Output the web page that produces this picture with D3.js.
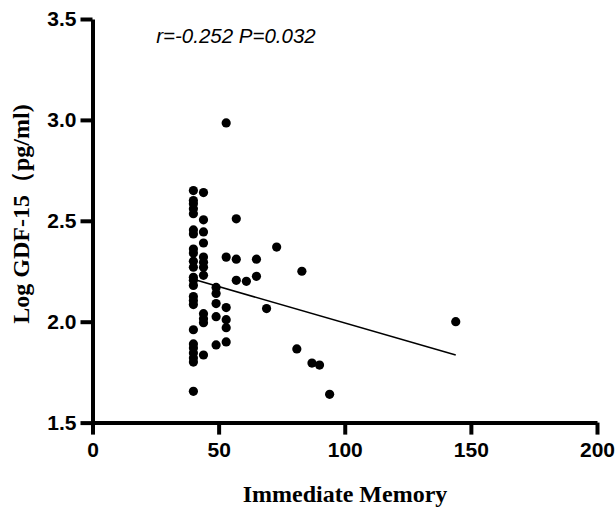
<!DOCTYPE html>
<html>
<head>
<meta charset="utf-8">
<script src="https://cdn.jsdelivr.net/npm/d3@7"></script>
<style>
    html, body { margin: 0; padding: 0; background: #fff; }
</style>
</head>
<body>
<svg id="chart" width="616" height="507"></svg>
<script>
// Immediate Memory score vs Log GDF-15 (pg/ml)
const memory40 = [2.65, 2.60, 2.585, 2.56, 2.535, 2.455, 2.435, 2.36, 2.34, 2.30, 2.27, 2.22,
    2.205, 2.18, 2.125, 2.105, 2.085, 1.96, 1.89, 1.87, 1.845, 1.82, 1.80, 1.655];
const memory44 = [2.64, 2.505, 2.445, 2.39, 2.32, 2.295, 2.27, 2.23, 2.04, 2.015, 1.995, 1.835];
const memory49 = [2.17, 2.14, 2.09, 2.025, 1.885];
const memory53 = [2.985, 2.32, 2.07, 2.01, 1.97, 1.90];
const memory57 = [2.51, 2.31, 2.205];
const otherScores = [61, 65, 65, 69, 73, 81, 83, 87, 90, 94, 144];
const otherGdf = [2.20, 2.31, 2.225, 2.065, 2.37, 1.865, 2.25, 1.795, 1.785, 1.64, 2.0];

// regression line end points
const fitX = [40, 144];
const fitY = [2.21, 1.835];

const xTicks = [0, 50, 100, 150, 200];
const yTicks = [1.5, 2.0, 2.5, 3.0, 3.5];

let points = [];
[[40, memory40], [44, memory44], [49, memory49], [53, memory53], [57, memory57]].forEach(([x, ys]) => {
    ys.forEach(y => points.push([x, y]));
});
otherScores.forEach((x, i) => points.push([x, otherGdf[i]]));

const svg = d3.select("#chart");

const xScale = d3.scaleLinear()
        .domain([0, 200])
        .range([92.5, 597]),
    yScale = d3.scaleLinear()
        .domain([1.5, 3.5])
        .range([422.6, 19]);

function styleAxis(g) {
    g.selectAll("path, line")
        .attr("stroke", "#000")
        .attr("stroke-width", 4);
    g.selectAll("text")
        .attr("fill", "#000")
        .style("font-family", "Liberation Sans, Arial, sans-serif")
        .style("font-weight", "bold")
        .style("font-size", "21px");
}

svg.append("g")
    .attr("class", "axis axis--x")
    .attr("transform", `translate(0, ${yScale(1.5)})`)
    .call(d3.axisBottom(xScale).tickValues(xTicks).tickSize(12).tickSizeOuter(0).tickPadding(7).tickFormat(d3.format("d")))
    .call(styleAxis);

svg.append("g")
    .attr("class", "axis axis--y")
    .attr("transform", `translate(${xScale(0)}, 0)`)
    .call(d3.axisLeft(yScale).tickValues(yTicks).tickSize(12).tickSizeOuter(0).tickPadding(4).tickFormat(d3.format(".1f")))
    .call(styleAxis);

svg.append("line")
    .attr("x1", xScale(fitX[0]))
    .attr("y1", yScale(fitY[0]))
    .attr("x2", xScale(fitX[1]))
    .attr("y2", yScale(fitY[1]))
    .attr("stroke", "#000")
    .attr("stroke-width", 1.5);

svg.append("g")
    .selectAll("circle")
    .data(points)
    .enter()
    .append("circle")
    .attr("cx", d => xScale(d[0]))
    .attr("cy", d => yScale(d[1]))
    .attr("r", 4.6)
    .attr("fill", "#000");

svg.append("text")
    .attr("x", 236)
    .attr("y", 43)
    .style("text-anchor", "middle")
    .style("font-family", "Liberation Sans, Arial, sans-serif")
    .style("font-style", "italic")
    .style("font-size", "20.5px")
    .text("r=-0.252 P=0.032");

svg.append("text")
    .attr("x", 345)
    .attr("y", 502)
    .style("text-anchor", "middle")
    .style("font-family", "Liberation Serif, Times New Roman, serif")
    .style("font-weight", "bold")
    .style("font-size", "24px")
    .text("Immediate Memory");

svg.append("text")
    .attr("transform", "translate(29, 214) rotate(-90)")
    .style("text-anchor", "middle")
    .style("font-family", "Liberation Serif, Times New Roman, serif")
    .style("font-weight", "bold")
    .style("font-size", "24px")
    .text("Log GDF-15（pg/ml)");
</script>
</body>
</html>
